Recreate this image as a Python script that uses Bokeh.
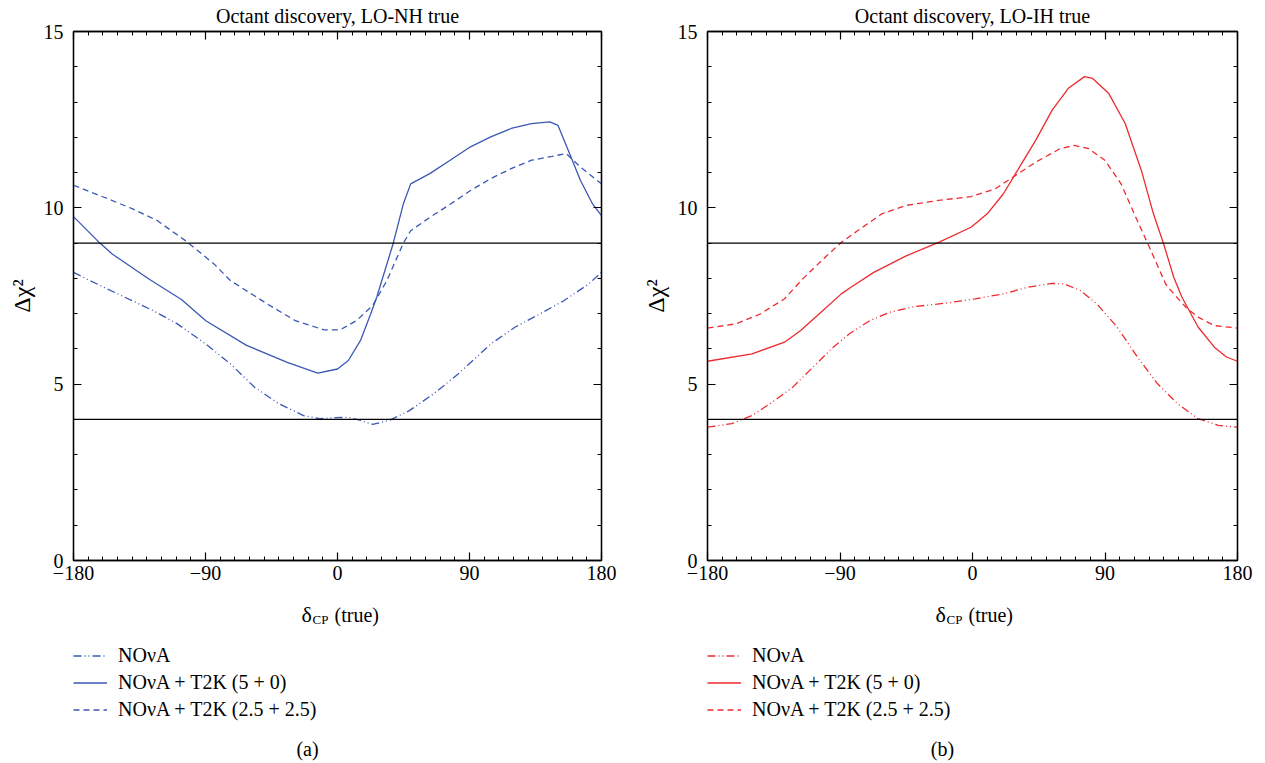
from bokeh.plotting import figure
from bokeh.models import Range1d, LinearAxis, FixedTicker, Legend, LegendItem, Label, Span
from bokeh.layouts import row, column
from bokeh.embed import file_html
from bokeh.resources import INLINE

# ---------------- data ----------------
thresholds = [4, 9]
x_ticks = [-180, -90, 0, 90, 180]
x_tick_labels = ["\u2212180", "\u221290", "0", "90", "180"]
y_ticks = [0, 5, 10, 15]
series_labels = ["NO\u03bdA", "NO\u03bdA + T2K (5 + 0)", "NO\u03bdA + T2K (2.5 + 2.5)"]

# (a) LO-NH true
nh_nova_x = [-180, -168.9, -145.3, -125.9, -109.2, -89.8, -73.1, -56.5, -39.8, -23.2, -12.1, -1.4, 7.4,
             15.7, 24, 35.1, 49, 65.7, 82.3, 104.5, 121.2, 137.9, 154.5, 171.2, 180]
nh_nova_y = [8.17, 7.94, 7.47, 7.09, 6.71, 6.14, 5.58, 4.91, 4.44, 4.11, 4.02, 4.05, 4.06,
             3.97, 3.86, 3.97, 4.25, 4.73, 5.29, 6.14, 6.62, 6.99, 7.37, 7.84, 8.17]
nh_t2k50_x = [-180, -162, -153.6, -128.6, -106.4, -89.8, -62, -34.3, -13.4, 0, 7.4, 15.7, 22.6, 26.8,
              37.9, 44.8, 49.9, 62.9, 76.8, 90.7, 104.5, 118.4, 132.3, 144.8, 150.3, 157.3, 165.6, 173.9, 180]
nh_t2k50_y = [9.75, 9.0, 8.69, 7.98, 7.4, 6.8, 6.1, 5.62, 5.31, 5.43, 5.67, 6.24, 6.99, 7.47,
              8.98, 10.1, 10.68, 10.97, 11.35, 11.73, 12.01, 12.25, 12.39, 12.44, 12.34, 11.63, 10.78, 10.11, 9.78]
nh_t2k25_x = [-180, -159.2, -139.7, -123, -103.7, -84.2, -73.1, -48.1, -28.7, -9.3, 1.8, 12.9, 24, 33.7,
              44.9, 49.9, 62.9, 76.8, 90.7, 104.5, 118.4, 132.3, 146.2, 155.9, 165.6, 180]
nh_t2k25_y = [10.64, 10.3, 9.97, 9.64, 9.07, 8.41, 7.94, 7.28, 6.8, 6.54, 6.54, 6.8, 7.23, 7.94,
              9.0, 9.35, 9.73, 10.1, 10.49, 10.83, 11.11, 11.35, 11.46, 11.54, 11.16, 10.68]

# (b) LO-IH true
ih_nova_x = [-180, -163.5, -149.7, -135.9, -122.2, -108.4, -94.6, -83.6, -69.8, -56.1, -39.5, -17.5, 1.8,
             21, 37.6, 54.1, 62.4, 73.4, 84.4, 98.2, 112, 125.7, 139.5, 153.2, 167, 180]
ih_nova_y = [3.78, 3.88, 4.11, 4.49, 4.91, 5.48, 6.05, 6.43, 6.8, 7.04, 7.2, 7.3, 7.42,
             7.56, 7.75, 7.86, 7.84, 7.65, 7.28, 6.62, 5.77, 5.01, 4.44, 4.02, 3.83, 3.78]
ih_t2k50_x = [-180, -149.7, -127.7, -116.7, -102.9, -89.1, -83.6, -67.1, -45, -23, -1, 10, 21, 32, 43,
              54.1, 65.1, 76.1, 81.6, 92.6, 103.7, 114.7, 122.9, 129.8, 136.7, 142.2, 153.2, 164.3, 172.5, 180]
ih_t2k50_y = [5.65, 5.86, 6.19, 6.52, 7.04, 7.56, 7.72, 8.17, 8.64, 9.02, 9.45, 9.83, 10.4, 11.16, 11.92,
              12.77, 13.39, 13.72, 13.67, 13.24, 12.39, 11.06, 9.83, 8.98, 8.03, 7.47, 6.62, 6.05, 5.77, 5.65]
ih_t2k25_x = [-180, -160.7, -144.2, -127.7, -115, -100.1, -89.1, -78.1, -61.6, -45, -23, -1, 15.5, 29.3,
              43.1, 59.6, 69.2, 78.9, 89.9, 100.9, 111.9, 120.2, 131.2, 136.7, 145, 153.2, 164.3, 180]
ih_t2k25_y = [6.59, 6.71, 6.99, 7.42, 8.0, 8.6, 9.02, 9.35, 9.83, 10.07, 10.21, 10.32, 10.54, 10.92,
              11.3, 11.68, 11.77, 11.68, 11.35, 10.68, 9.64, 8.88, 7.84, 7.56, 7.18, 6.9, 6.66, 6.59]

FONT = "Liberation Serif"
DASHES = ["8 3 1 3 1 3", "solid", "6 4"]
LW = 1.3


def style_axis(ax, ticks, minor, labels, show_labels):
    ax.ticker = FixedTicker(ticks=ticks, minor_ticks=minor)
    ax.axis_line_color = "black"
    ax.axis_line_width = 1.3
    ax.major_tick_line_color = "black"
    ax.minor_tick_line_color = "black"
    ax.major_tick_line_width = 1.2
    ax.minor_tick_line_width = 1.0
    ax.major_tick_in = 8
    ax.major_tick_out = 0
    ax.minor_tick_in = 4
    ax.minor_tick_out = 0
    ax.major_label_text_font = FONT
    if show_labels:
        ax.major_label_text_font_size = "20px"
        ax.major_label_text_color = "black"
        if labels is not None:
            ax.major_label_overrides = {t: l for t, l in zip(ticks, labels)}
    else:
        ax.major_label_text_font_size = "0px"
        ax.major_label_standoff = 0
        ax.major_label_overrides = {t: "" for t in ticks}


def make_panel(title, xs, ys, color, width, bl, br):
    p = figure(width=width, height=590, output_backend="svg", toolbar_location=None,
               x_range=Range1d(-180, 180), y_range=Range1d(0, 15),
               min_border_left=bl, min_border_right=br, min_border_top=31, min_border_bottom=30)
    p.title.text = title
    p.title.align = "center"
    p.title.vertical_align = "top"
    p.title.text_font = FONT
    p.title.text_font_size = "20px"
    p.title.text_font_style = "normal"
    p.title.text_color = "black"
    p.title.standoff = 5
    p.grid.visible = False
    p.outline_line_color = "black"
    p.outline_line_width = 1.3

    xminor = list(range(-180, 181, 10))
    yminor = list(range(0, 16, 1))
    style_axis(p.xaxis[0], x_ticks, xminor, x_tick_labels, True)
    p.xaxis[0].major_label_standoff = 5
    style_axis(p.yaxis[0], y_ticks, yminor, None, True)
    p.yaxis[0].major_label_standoff = 10
    p.yaxis[0].axis_label = "\u0394\u03c7\u00b2"
    p.yaxis[0].axis_label_text_font = FONT
    p.yaxis[0].axis_label_text_font_size = "24px"
    p.yaxis[0].axis_label_text_font_style = "normal"
    p.yaxis[0].axis_label_text_color = "black"
    p.yaxis[0].axis_label_standoff = 6

    top = LinearAxis()
    style_axis(top, x_ticks, xminor, None, False)
    p.add_layout(top, "above")
    right = LinearAxis()
    style_axis(right, y_ticks, yminor, None, False)
    p.add_layout(right, "right")

    for t in thresholds:
        p.add_layout(Span(location=t, dimension="width", line_color="black", line_width=1.3))

    for x, y, dash in zip(xs, ys, DASHES):
        p.line(x, y, line_color=color, line_width=LW, line_dash=dash)
    return p


def make_footer(xs, ys, color, width, frame_left, caption, cap_x):
    # a plain canvas (pixel coordinates, y downwards) below each panel for the
    # x-axis title, the legend and the panel caption
    f = figure(width=width, height=173, output_backend="svg", toolbar_location=None,
               x_range=Range1d(0, width), y_range=Range1d(173, 0),
               x_axis_type=None, y_axis_type=None,
               min_border_left=0, min_border_right=0, min_border_top=0, min_border_bottom=0)
    f.grid.visible = False
    f.outline_line_color = None
    # series repeated on a range where they lie out of view: they only feed the legend
    f.extra_y_ranges = {"legend_only": Range1d(100, 200)}

    x0 = frame_left + 228
    f.add_layout(Label(x=x0, y=24, text="\u03b4", text_font=FONT, text_font_size="22px",
                       text_color="black", text_align="left", text_baseline="alphabetic"))
    f.add_layout(Label(x=x0 + 11, y=29, text="CP", text_font=FONT, text_font_size="13px",
                       text_color="black", text_align="left", text_baseline="alphabetic"))
    f.add_layout(Label(x=x0 + 33, y=24, text="(true)", text_font=FONT, text_font_size="20px",
                       text_color="black", text_align="left", text_baseline="alphabetic"))

    items = []
    for x, y, dash, lab in zip(xs, ys, DASHES, series_labels):
        r = f.line(x, y, line_color=color, line_width=LW, line_dash=dash,
                   y_range_name="legend_only")
        items.append(LegendItem(label=lab, renderers=[r]))
    leg = Legend(items=items, location=(frame_left, 40), orientation="vertical",
                 glyph_width=34, glyph_height=27, label_height=27, spacing=0,
                 padding=0, margin=0, label_standoff=11,
                 label_text_font=FONT, label_text_font_size="20px", label_text_color="black",
                 border_line_alpha=0, background_fill_alpha=0)
    f.add_layout(leg)

    f.add_layout(Label(x=cap_x, y=158, text=caption, text_font=FONT, text_font_size="20px",
                       text_color="black", text_align="center", text_baseline="middle"))
    return f


nh_xs = [nh_nova_x, nh_t2k50_x, nh_t2k25_x]
nh_ys = [nh_nova_y, nh_t2k50_y, nh_t2k25_y]
ih_xs = [ih_nova_x, ih_t2k50_x, ih_t2k25_x]
ih_ys = [ih_nova_y, ih_t2k50_y, ih_t2k25_y]

p1 = make_panel("Octant discovery, LO-NH true", nh_xs, nh_ys, "#3a58b4", 632, 73, 31)
p2 = make_panel("Octant discovery, LO-IH true", ih_xs, ih_ys, "#ee2a2e", 633, 75, 28)
f1 = make_footer(nh_xs, nh_ys, "#3a58b4", 632, 73, "(a)", 307)
f2 = make_footer(ih_xs, ih_ys, "#ee2a2e", 633, 75, "(b)", 310)

layout = column(row(p1, p2, spacing=0), row(f1, f2, spacing=0), spacing=0)
open("out.html", "w").write(file_html(layout, INLINE))
